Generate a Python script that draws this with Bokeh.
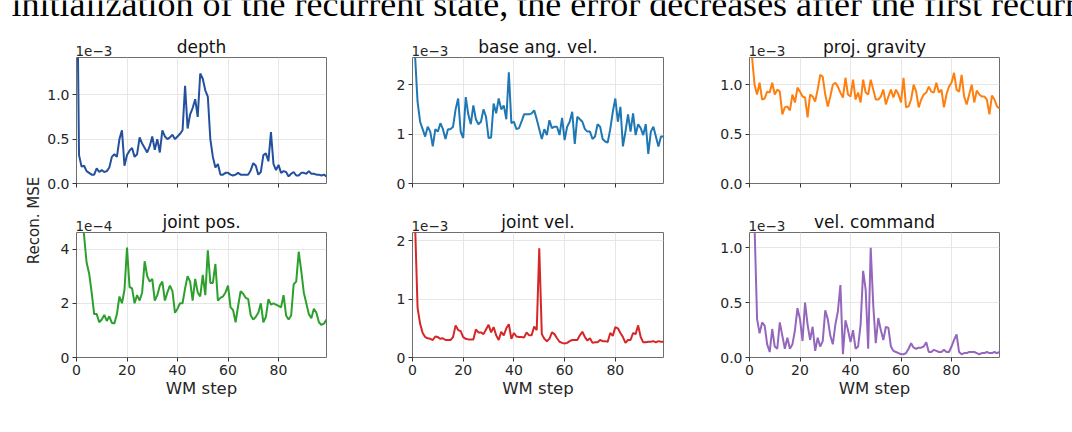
import numpy as np
from bokeh.plotting import figure
from bokeh.layouts import row, column
from bokeh.models import Range1d, FixedTicker, PrintfTickFormatter
from bokeh.core.properties import value
from bokeh.embed import file_html
from bokeh.resources import INLINE

# reconstruction MSE per world-model step (mantissa, see exponent per panel)
steps = np.arange(100)

depth = [3.0, 0.32, 0.19, 0.20, 0.14, 0.12, 0.10, 0.10, 0.17, 0.13,
         0.15, 0.13, 0.14, 0.18, 0.30, 0.33, 0.30, 0.50, 0.60, 0.20,
         0.32, 0.37, 0.40, 0.30, 0.33, 0.52, 0.45, 0.40, 0.35, 0.42,
         0.53, 0.38, 0.50, 0.35, 0.60, 0.53, 0.50, 0.52, 0.55, 0.50,
         0.53, 0.56, 0.60, 1.10, 0.62, 0.78, 0.85, 0.95, 0.75, 1.24,
         1.18, 1.05, 0.98, 0.50, 0.30, 0.18, 0.22, 0.10, 0.10, 0.12,
         0.12, 0.10, 0.09, 0.10, 0.12, 0.10, 0.10, 0.10, 0.10, 0.15,
         0.23, 0.20, 0.10, 0.13, 0.32, 0.34, 0.25, 0.58, 0.22, 0.15,
         0.21, 0.12, 0.14, 0.13, 0.08, 0.11, 0.13, 0.09, 0.09, 0.12,
         0.12, 0.11, 0.14, 0.11, 0.11, 0.10, 0.10, 0.09, 0.10, 0.08]

base_ang_vel = [3.5, 2.6, 1.65, 1.25, 1.10, 0.95, 1.15, 1.05, 0.75, 1.10,
                1.05, 1.22, 1.10, 0.90, 1.10, 1.10, 1.15, 1.50, 1.72, 1.05,
                0.92, 1.75, 1.40, 1.20, 1.58, 1.30, 1.20, 1.25, 1.50, 1.35,
                0.92, 0.93, 1.62, 1.42, 1.72, 1.50, 1.58, 1.30, 2.25, 1.22,
                1.25, 1.10, 1.12, 1.25, 1.40, 1.40, 1.40, 1.42, 1.48, 1.30,
                1.10, 0.90, 1.10, 0.98, 1.28, 1.12, 1.15, 1.15, 0.98, 1.33,
                0.88, 1.15, 1.25, 1.45, 0.80, 1.35, 1.30, 1.25, 1.10, 1.05,
                1.05, 0.90, 0.95, 1.20, 1.15, 0.90, 0.85, 0.83, 1.10, 1.45,
                1.72, 1.25, 1.55, 0.75, 1.05, 1.40, 1.05, 1.42, 0.98, 1.20,
                1.12, 0.98, 1.20, 0.60, 1.05, 1.15, 0.95, 0.75, 0.95, 0.95]

proj_gravity = [1.6, 1.28, 1.00, 0.90, 1.02, 0.85, 0.86, 0.93, 0.92, 1.02,
                0.90, 0.95, 0.93, 0.70, 0.77, 0.78, 0.74, 0.90, 0.82, 0.97,
                0.93, 0.88, 0.87, 0.67, 0.90, 0.88, 0.83, 0.95, 1.10, 1.08,
                0.90, 0.78, 0.88, 1.00, 1.02, 0.98, 0.92, 0.87, 1.07, 0.90,
                0.88, 1.05, 0.85, 0.92, 0.82, 1.05, 0.92, 0.90, 1.05, 0.95,
                0.85, 0.85, 0.88, 0.95, 0.80, 0.88, 0.95, 0.87, 0.95, 0.90,
                0.82, 1.07, 0.77, 0.78, 0.85, 1.00, 0.93, 0.77, 0.85, 0.90,
                0.92, 0.98, 0.93, 0.92, 1.02, 0.92, 0.95, 0.77, 0.90, 0.98,
                1.02, 1.12, 0.95, 0.93, 1.10, 0.88, 0.80, 0.90, 1.00, 0.82,
                0.94, 0.90, 0.88, 0.88, 0.85, 0.70, 0.89, 0.85, 0.78, 0.76]

joint_pos = [7.0, 6.0, 5.2, 4.5, 3.5, 3.1, 2.4, 1.6, 1.6, 1.3,
             1.4, 1.57, 1.35, 1.52, 1.28, 1.25, 1.6, 2.25, 2.0, 2.5,
             4.05, 2.6, 2.55, 2.0, 2.3, 2.1, 2.4, 3.55, 3.0, 2.8,
             2.9, 2.1, 2.3, 2.65, 2.8, 2.1, 2.4, 2.65, 2.45, 1.65,
             1.8, 2.0, 2.0, 2.55, 3.0, 2.8, 2.1, 2.9, 2.4, 2.25,
             3.05, 2.3, 3.95, 2.75, 2.75, 3.45, 2.1, 2.2, 2.25, 2.4,
             2.65, 1.85, 1.75, 1.3, 1.9, 2.45, 2.35, 2.2, 2.15, 1.55,
             1.4, 1.5, 1.65, 2.0, 1.3, 1.5, 2.15, 1.95, 2.0, 1.95,
             1.9, 1.85, 2.3, 1.55, 1.4, 1.55, 2.7, 2.8, 3.9, 3.2,
             2.4, 2.0, 1.6, 1.45, 1.8, 1.65, 1.3, 1.2, 1.25, 1.4]

joint_vel = [4.0, 2.3, 0.85, 0.58, 0.42, 0.35, 0.33, 0.32, 0.30, 0.36,
             0.35, 0.32, 0.33, 0.30, 0.30, 0.30, 0.35, 0.55, 0.47, 0.45,
             0.35, 0.32, 0.31, 0.31, 0.31, 0.48, 0.43, 0.43, 0.40, 0.48,
             0.56, 0.43, 0.52, 0.38, 0.30, 0.44, 0.38, 0.50, 0.57, 0.32,
             0.42, 0.36, 0.35, 0.35, 0.34, 0.43, 0.38, 0.38, 0.53, 0.47,
             1.87, 0.40, 0.32, 0.28, 0.32, 0.43, 0.40, 0.33, 0.27, 0.25,
             0.24, 0.25, 0.28, 0.30, 0.30, 0.30, 0.38, 0.44, 0.35, 0.29,
             0.33, 0.25, 0.26, 0.26, 0.30, 0.28, 0.28, 0.27, 0.42, 0.37,
             0.52, 0.50, 0.42, 0.35, 0.25, 0.30, 0.30, 0.42, 0.40, 0.55,
             0.35, 0.26, 0.26, 0.27, 0.27, 0.28, 0.26, 0.28, 0.27, 0.27]

vel_command = [2.0, 1.6, 1.2, 0.35, 0.22, 0.32, 0.29, 0.12, 0.05, 0.26,
               0.10, 0.08, 0.32, 0.20, 0.08, 0.18, 0.08, 0.12, 0.25, 0.45,
               0.35, 0.15, 0.50, 0.30, 0.16, 0.28, 0.06, 0.18, 0.10, 0.15,
               0.43, 0.35, 0.20, 0.12, 0.30, 0.42, 0.66, 0.03, 0.34, 0.25,
               0.14, 0.25, 0.08, 0.10, 0.30, 0.79, 0.62, 0.08, 1.00, 0.48,
               0.13, 0.36, 0.25, 0.16, 0.28, 0.27, 0.10, 0.06, 0.05, 0.04,
               0.03, 0.03, 0.04, 0.08, 0.13, 0.09, 0.08, 0.09, 0.09, 0.10,
               0.14, 0.05, 0.05, 0.07, 0.06, 0.05, 0.05, 0.07, 0.05, 0.05,
               0.10, 0.16, 0.21, 0.05, 0.03, 0.04, 0.04, 0.05, 0.05, 0.05,
               0.04, 0.03, 0.04, 0.04, 0.05, 0.04, 0.04, 0.05, 0.04, 0.05]

titles = ["depth", "base ang. vel.", "proj. gravity",
          "joint pos.", "joint vel.", "vel. command"]
series = [depth, base_ang_vel, proj_gravity, joint_pos, joint_vel, vel_command]
exponents = ["1e\u22123", "1e\u22123", "1e\u22123", "1e\u22124", "1e\u22123", "1e\u22123"]
y_tops = [1.42, 2.55, 1.275, 4.61, 2.14, 1.14]
y_ticks = [[0, 0.5, 1.0], [0, 1, 2], [0, 0.5, 1.0], [0, 2, 4], [0, 1, 2], [0, 0.5, 1.0]]
y_formats = ["%.1f", "%d", "%.1f", "%d", "%d", "%.1f"]
x_ticks = [0, 20, 40, 60, 80]
colors = ['#24519d', '#1f77b4', '#ff7f0e', '#2ca02c', '#d62728', '#9467bd']

FONT = "DejaVu Sans"
TXT = '#262626'
FRAME_W = [250, 251, 250]
B_LEFT, B_RIGHT = 34, 52
STRIP_H = 25
LAB_W = 42
HEAD_H = 32


def make_panel(i):
    bottom = i >= 3
    p = figure(frame_width=FRAME_W[i % 3],
               frame_height=125 if bottom else 126,
               min_border_left=B_LEFT, min_border_right=B_RIGHT,
               min_border_top=0, min_border_bottom=48 if bottom else 24,
               x_range=Range1d(0, 99), y_range=Range1d(0, y_tops[i]),
               output_backend="svg", toolbar_location=None, tools="")
    p.line(steps, series[i], line_width=2, color=colors[i])
    # ------------------------
    p.xaxis.ticker = FixedTicker(ticks=x_ticks)
    p.yaxis.ticker = FixedTicker(ticks=y_ticks[i])
    p.yaxis.formatter = PrintfTickFormatter(format=y_formats[i])
    p.axis.major_label_text_font = FONT
    p.axis.major_label_text_font_size = '14px'
    p.axis.major_label_text_color = TXT
    p.axis.major_tick_out = 4
    p.axis.major_tick_in = 0
    p.axis.major_tick_line_color = '#333333'
    p.axis.minor_tick_line_color = None
    p.axis.axis_line_color = None
    p.axis.major_label_standoff = 3
    if bottom:
        p.xaxis.axis_label = "WM step"
        p.xaxis.axis_label_text_font = FONT
        p.xaxis.axis_label_text_font_size = '16.5px'
        p.xaxis.axis_label_text_font_style = 'normal'
        p.xaxis.axis_label_text_color = TXT
        p.xaxis.axis_label_standoff = 1
    else:
        p.xaxis.major_label_text_color = None
        p.xaxis.major_label_standoff = 0
    # ------------------------
    p.grid.grid_line_color = '#e6e6e6'
    p.grid.grid_line_width = 1
    p.outline_line_color = '#6e6e6e'
    p.outline_line_width = 1
    p.background_fill_color = 'white'
    p.border_fill_color = 'white'
    return p


def make_strip(idx):
    # subplot titles and offset texts sit above each frame
    total_w = sum(B_LEFT + w + B_RIGHT for w in FRAME_W)
    s = figure(width=total_w, height=STRIP_H, x_range=Range1d(0, total_w), y_range=Range1d(0, STRIP_H),
               min_border=0, output_backend="svg", toolbar_location=None, tools="")
    s.axis.visible = False
    s.grid.visible = False
    s.outline_line_color = None
    lefts = np.cumsum([0] + [B_LEFT + w + B_RIGHT for w in FRAME_W[:-1]]) + B_LEFT
    centers = lefts + np.array(FRAME_W) / 2
    s.text(x=centers, y=[11] * 3, text=[titles[k] for k in idx], text_align='center',
           text_baseline='middle', text_font=value(FONT), text_font_size='17px', text_color='#111111')
    s.text(x=lefts - 1, y=[7] * 3, text=[exponents[k] for k in idx], text_align='left',
           text_baseline='middle', text_font=value(FONT), text_font_size='13.5px', text_color=TXT)
    return s


panels = [make_panel(i) for i in range(6)]

# header: cropped line of the surrounding paper text
head = figure(width=1072, height=HEAD_H, x_range=Range1d(0, 1072), y_range=Range1d(0, HEAD_H),
              min_border=0, output_backend="svg", toolbar_location=None, tools="")
head.axis.visible = False
head.grid.visible = False
head.outline_line_color = None
head.text(x=[11], y=[29], text=["initialization of the recurrent state, the error decreases after the first recurrent"],
          text_font=value("Liberation Serif"), text_font_size='36px', text_color='black',
          text_baseline='middle')

# shared y label
lab_h = 2 * STRIP_H + 126 + 24 + 125 + 48
lab = figure(width=LAB_W, height=lab_h, x_range=Range1d(0, LAB_W), y_range=Range1d(0, lab_h),
             min_border=0, output_backend="svg", toolbar_location=None, tools="")
lab.axis.visible = False
lab.grid.visible = False
lab.outline_line_color = None
lab.text(x=[33], y=[lab_h - 188], text=["Recon. MSE"], angle=np.pi/2, text_align='center',
         text_baseline='middle', text_font=value(FONT), text_font_size='15px', text_color=TXT)

grid = column(make_strip([0, 1, 2]), row(panels[0], panels[1], panels[2]),
              make_strip([3, 4, 5]), row(panels[3], panels[4], panels[5]))
page = column(head, row(lab, grid))

open("out.html", "w").write(file_html(page, INLINE))
